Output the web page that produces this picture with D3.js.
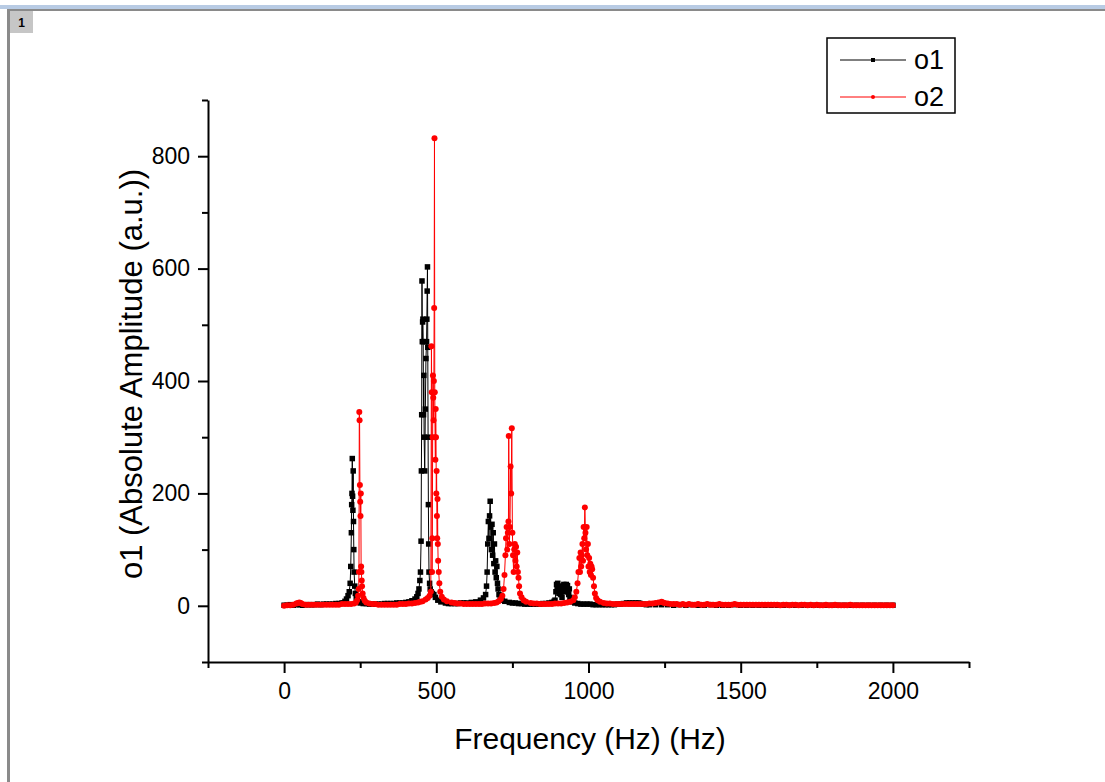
<!DOCTYPE html>
<html>
<head>
<meta charset="utf-8">
<script src="https://cdn.jsdelivr.net/npm/d3@7"></script>
<style>
  html, body { margin: 0; padding: 0; background: #ffffff; }
  svg { display: block; font-family: Arial, "Liberation Sans", sans-serif; }
</style>
</head>
<body>
<svg id="chart" width="1105" height="782"></svg>
<script>
// ---------- data (frequency Hz, amplitude a.u.) ----------
const seriesNames = ["o1", "o2"];
const xMajorTicks = [0, 500, 1000, 1500, 2000];
const xMinorTicks = [-250, 250, 750, 1250, 1750, 2250];
const yMajorTicks = [0, 200, 400, 600, 800];
const yMinorTicks = [-100, 100, 300, 500, 700, 900];
const xAxisTitle = "Frequency (Hz) (Hz)";
const yAxisTitle = "o1 (Absolute Amplitude (a.u.))";

const o1 = [
[0,1],[10,1],[20,2],[30,1],[40,2],[50,2],[60,1],[70,2],[80,2],[90,2],[100,2],[110,3],[120,2],[130,3],[140,3],[150,3],[160,3],[170,4],[180,4],[190,5],
[195,5],[200,8],[205,12],[210,18],[214,25],[217,40],[219,70],[221,130],[222,180],[223,200],[224,262],[225,195],[226,170],[227,240],[228,150],[229,100],[230,60],[232,35],[234,22],[237,14],[240,10],[245,7],[250,5],
[260,4],[270,4],[280,3],[290,3],[300,3],[310,3],[320,3],[330,4],[340,4],[350,4],[360,4],[370,5],[380,5],[390,5],
[400,6],[410,7],[420,9],[430,12],[436,16],[440,22],[443,30],[446,45],[448,60],[450,115],[451,240],[452,340],[453,578],[454,470],[455,505],[456,510],[457,470],[458,340],[459,410],[460,300],[462,240],[464,350],[466,440],[468,470],[469,510],[470,560],[471,603],[472,460],[473,300],[474,180],[475,110],[476,60],[478,40],[480,30],[483,25],[487,22],[492,20],[497,15],[505,10],[515,7],[530,5],
[540,4],[550,4],[560,4],[570,4],[580,5],[590,5],
[600,5],[615,6],[630,7],[645,10],[655,14],[662,20],[665,35],[667,60],[669,110],[671,150],[673,120],[675,160],[677,186],[679,140],[681,100],[683,145],[685,90],[687,130],[689,75],[691,110],[693,60],[695,80],[697,50],[699,70],[701,40],[703,30],[706,20],[710,14],[716,10],[725,8],[740,6],[750,5],
[760,5],[770,4],[780,4],[790,3],[800,3],[810,3],[820,3],[830,3],[840,3],[850,4],
[860,4],[870,5],[880,6],[887,8],[890,10],[893,25],[895,38],[897,30],[899,40],[901,28],[903,22],[905,35],[907,30],[909,20],[911,25],[913,15],[915,28],[917,35],[919,38],[921,30],[923,25],[925,35],[927,38],[929,30],[931,36],[933,25],[935,20],[937,30],[939,15],[942,10],[946,7],[955,5],[965,4],
[975,3],[985,3],[995,3],[1005,3],[1015,2],[1025,2],[1035,2],[1045,2],[1055,2],[1065,2],[1075,2],[1085,2],[1095,3],[1105,3],[1115,4],[1125,5],[1130,4],[1135,5],[1140,4],[1145,5],[1150,4],[1155,5],[1160,4],[1165,5],[1170,4],[1180,3],[1190,2],
[1200,2],[1220,2],[1240,2],[1260,2],[1280,1],[1300,2],[1320,1],[1340,2],[1360,1],[1380,1],[1400,2],[1420,1],[1440,1],[1460,1],[1480,2],[1500,1],[1520,1],[1540,1],[1560,1],[1580,1],[1600,1],[1620,1],[1640,1],[1660,1],[1680,1],[1700,1],[1720,1],[1740,1],[1760,1],[1780,1],[1800,1],[1820,1],[1840,1],[1860,1],[1880,1],[1900,1],[1920,1],[1940,1],[1960,1],[1980,1],[2000,1]
];

const o2 = [
[0,0],[10,1],[20,1],[30,2],[40,4],[45,5],[50,6],[55,5],[60,3],[70,2],[80,2],[90,2],[100,2],[110,2],[120,2],[130,2],[140,2],[150,2],[160,2],[170,2],[180,2],[190,3],[200,3],[210,3],[220,3],
[230,4],[236,6],[240,10],[243,18],[245,30],[246,60],[247,345],[248,330],[249,215],[250,185],[251,160],[252,200],[253,70],[254,60],[255,45],[256,35],[258,22],[261,14],[265,9],[270,6],[280,4],
[290,3],[300,3],[310,2],[320,2],[330,2],[340,2],[350,2],[360,2],[370,2],[380,3],[390,3],[400,3],[410,4],
[420,4],[430,5],[440,6],[448,7],[455,8],[465,11],[472,14],[478,18],[482,25],[484,462],[485,380],[486,60],[487,120],[488,300],[489,410],[490,370],[491,330],[492,400],[493,530],[494,832],[495,380],[496,300],[497,260],[498,350],[499,300],[500,200],[501,240],[502,160],[503,120],[504,190],[505,110],[506,80],[508,60],[510,40],[513,25],[518,16],[525,11],[535,8],[550,6],
[560,5],[570,4],[580,4],[590,3],[600,3],[610,3],[620,3],[630,3],[640,3],[650,3],[660,4],[670,4],[680,4],
[690,5],[698,6],[705,8],[712,12],[717,18],[721,30],[724,55],[727,90],[729,120],[731,140],[733,100],[735,130],[737,150],[738,302],[740,110],[742,140],[744,248],[746,200],[748,316],[750,130],[752,90],[754,60],[756,100],[758,110],[760,80],[762,105],[764,70],[766,95],[768,60],[770,50],[772,35],[775,22],[780,15],[787,10],[795,7],[810,5],
[820,4],[830,4],[840,3],[850,3],[860,3],[870,3],[880,3],[890,4],[900,4],[910,4],
[920,5],[930,6],[940,7],[950,10],[955,15],[960,25],[964,40],[967,60],[970,85],[972,60],[974,95],[976,70],[978,90],[980,110],[982,80],[984,140],[986,120],[988,175],[990,130],[992,100],[994,140],[996,90],[998,110],[1000,70],[1002,85],[1004,60],[1006,75],[1008,55],[1010,70],[1012,65],[1015,50],[1018,35],[1021,22],[1025,14],[1030,10],[1038,7],[1050,5],
[1060,4],[1070,4],[1080,3],[1090,3],[1100,3],[1110,3],[1120,3],[1130,3],[1140,3],[1150,3],[1160,3],[1170,3],[1180,3],[1190,3],[1200,4],[1210,4],[1220,5],[1230,6],[1240,7],[1245,6],[1250,5],[1260,4],[1270,3],[1280,3],[1290,3],
[1300,2],[1310,3],[1320,2],[1330,3],[1340,2],[1350,2],[1360,3],[1370,2],[1380,2],[1390,3],[1400,2],[1410,2],[1420,2],[1430,3],[1440,2],[1450,2],[1460,2],[1470,2],[1480,3],[1490,2],[1500,2],[1510,2],[1520,2],[1530,2],[1540,2],[1550,2],[1560,2],[1570,2],[1580,2],[1590,2],[1600,2],[1610,2],[1620,2],[1630,1],[1640,2],[1650,2],[1660,1],[1670,2],[1680,2],[1690,1],[1700,2],[1710,2],[1720,1],[1730,2],[1740,1],[1750,2],[1760,1],[1770,1],[1780,2],[1790,1],[1800,1],[1810,2],[1820,1],[1830,1],[1840,1],[1850,1],[1860,2],[1870,1],[1880,1],[1890,1],[1900,1],[1910,1],[1920,1],[1930,1],[1940,1],[1950,1],[1960,1],[1970,1],[1980,1],[1990,1],[2000,1]
];

const seriesColors = ["#000000", "#ff0000"];

// ---------- drawing ----------
const svg = d3.select("#chart");

// window frame decorations
svg.append("rect").attr("x", 0).attr("y", 0).attr("width", 1105).attr("height", 782).attr("fill", "#ffffff");
svg.append("rect").attr("x", 0).attr("y", 5).attr("width", 1105).attr("height", 4).attr("fill", "#b8cbe4");
svg.append("rect").attr("x", 7).attr("y", 9).attr("width", 1098).attr("height", 2).attr("fill", "#8a8a8a");
svg.append("rect").attr("x", 7).attr("y", 9).attr("width", 3).attr("height", 773).attr("fill", "#8a8a8a");
svg.append("rect").attr("x", 10).attr("y", 11).attr("width", 23).attr("height", 22).attr("fill", "#c6c6c6");
svg.append("text").attr("x", 21.5).attr("y", 27).attr("text-anchor", "middle")
  .attr("font-size", 12).attr("font-weight", "bold").attr("fill", "#000").text("1");

const x = d3.scaleLinear().domain([-250, 2250]).range([208, 969]);
const y = d3.scaleLinear().domain([-100, 900]).range([662, 100]);

// axes
function styleAxis(g) {
  g.selectAll("path.domain").attr("stroke", "#000").attr("stroke-width", 2);
  g.selectAll(".tick line").attr("stroke", "#000").attr("stroke-width", 2);
  g.selectAll(".tick text").attr("fill", "#000").attr("font-size", 23)
    .attr("font-family", "Arial, 'Liberation Sans', sans-serif");
}

const gxMinor = svg.append("g").attr("transform", "translate(0,662)")
  .call(d3.axisBottom(x).tickValues(xMinorTicks).tickSize(6).tickSizeOuter(0).tickFormat(""));
gxMinor.select("path.domain").remove();
styleAxis(gxMinor);

const gx = svg.append("g").attr("transform", "translate(0,662)")
  .call(d3.axisBottom(x).tickValues(xMajorTicks).tickSize(11).tickSizeOuter(0).tickPadding(10).tickFormat(d3.format("d")));
styleAxis(gx);

const gyMinor = svg.append("g").attr("transform", "translate(208,0)")
  .call(d3.axisLeft(y).tickValues(yMinorTicks).tickSize(6).tickSizeOuter(0).tickFormat(""));
gyMinor.select("path.domain").remove();
styleAxis(gyMinor);

const gy = svg.append("g").attr("transform", "translate(208,0)")
  .call(d3.axisLeft(y).tickValues(yMajorTicks).tickSize(10).tickSizeOuter(0).tickPadding(8).tickFormat(d3.format("d")));
styleAxis(gy);

// axis titles
svg.append("text").attr("x", 590).attr("y", 749).attr("text-anchor", "middle")
  .attr("font-size", 30).attr("fill", "#000").text(xAxisTitle);
svg.append("text").attr("transform", "translate(142,374) rotate(-90)").attr("text-anchor", "middle")
  .attr("font-size", 31).attr("fill", "#000").text(yAxisTitle);

// series
const line = d3.line().x(d => x(d[0])).y(d => y(d[1]));
const allSeries = [o1, o2];

allSeries.forEach((data, i) => {
  const g = svg.append("g");
  g.append("path").datum(data).attr("d", line)
    .attr("fill", "none").attr("stroke", seriesColors[i]).attr("stroke-width", 1);
  if (i === 0) {
    g.selectAll("rect").data(data).join("rect")
      .attr("x", d => x(d[0]) - 2.75).attr("y", d => y(d[1]) - 2.75)
      .attr("width", 5.5).attr("height", 5.5).attr("fill", seriesColors[i]);
  } else {
    g.selectAll("circle").data(data).join("circle")
      .attr("cx", d => x(d[0])).attr("cy", d => y(d[1]))
      .attr("r", 3).attr("fill", seriesColors[i]);
  }
});

// legend
const lg = svg.append("g");
lg.append("rect").attr("x", 827).attr("y", 38).attr("width", 128).attr("height", 75)
  .attr("fill", "#fff").attr("stroke", "#000").attr("stroke-width", 1.5);
seriesNames.forEach((name, i) => {
  const cy = 60 + i * 37;
  lg.append("line").attr("x1", 840).attr("x2", 906).attr("y1", cy).attr("y2", cy)
    .attr("stroke", seriesColors[i]).attr("stroke-width", 1);
  if (i === 0) {
    lg.append("rect").attr("x", 871).attr("y", cy - 2).attr("width", 4).attr("height", 4).attr("fill", seriesColors[i]);
  } else {
    lg.append("circle").attr("cx", 873).attr("cy", cy).attr("r", 2).attr("fill", seriesColors[i]);
  }
  lg.append("text").attr("x", 914).attr("y", cy).attr("dy", "0.35em")
    .attr("font-size", 27).attr("fill", "#000").text(name);
});
</script>
</body>
</html>
